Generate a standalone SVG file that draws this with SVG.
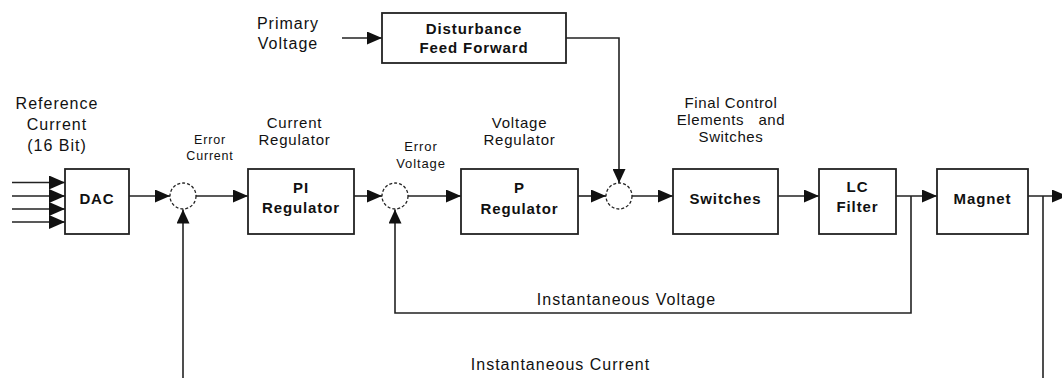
<svg xmlns="http://www.w3.org/2000/svg" width="1062" height="378" viewBox="0 0 1062 378">
  <style>
    .box { fill: #fff; stroke: #222; stroke-width: 1.8; }
    .sum { fill: #fff; stroke: #222; stroke-width: 1.3; stroke-dasharray: 3 2; }
    .ln { fill: none; stroke: #222; stroke-width: 1.6; }
    .t { font-family: "Liberation Sans", Arial, sans-serif; fill: #111; text-anchor: middle; white-space: pre; }
    .b { font-size: 15px; font-weight: bold; letter-spacing: 0.9px; }
    .r16 { font-size: 16px; letter-spacing: 1px; }
    .r15 { font-size: 15px; letter-spacing: 0.8px; }
    .r14 { font-size: 15px; letter-spacing: 0.6px; }
    .r13 { font-size: 13px; letter-spacing: 0.9px; }
    .r12 { font-size: 12.5px; letter-spacing: 0.8px; }
  </style>
  <defs>
    <marker id="ah" markerUnits="userSpaceOnUse" markerWidth="15" markerHeight="13" refX="15" refY="6.5" orient="auto">
      <path d="M0,0 L15,6.5 L0,13 z" fill="#111"/>
    </marker>
    <marker id="ahv" markerUnits="userSpaceOnUse" markerWidth="14" markerHeight="13" refX="14" refY="6.5" orient="auto">
      <path d="M0,0 L14,6.5 L0,13 z" fill="#111"/>
    </marker>
    <marker id="ahi" markerUnits="userSpaceOnUse" markerWidth="16" markerHeight="14" refX="16" refY="7" orient="auto">
      <path d="M0,0 L16,7 L0,14 z" fill="#111"/>
    </marker>
  </defs>

  <rect width="1062" height="378" fill="#fff"/>

  <g id="connectors">
    <!-- DAC inputs -->
    <line class="ln" x1="12" y1="182.5" x2="65" y2="182.5" marker-end="url(#ahi)"/>
    <line class="ln" x1="12" y1="196" x2="65" y2="196" marker-end="url(#ahi)"/>
    <line class="ln" x1="12" y1="209" x2="65" y2="209" marker-end="url(#ahi)"/>
    <line class="ln" x1="12" y1="222" x2="65" y2="222" marker-end="url(#ahi)"/>
    <!-- forward path -->
    <line class="ln" x1="129" y1="196" x2="170" y2="196" marker-end="url(#ah)"/>
    <line class="ln" x1="196" y1="196" x2="248" y2="196" marker-end="url(#ah)"/>
    <line class="ln" x1="354" y1="196" x2="382" y2="196" marker-end="url(#ah)"/>
    <line class="ln" x1="408" y1="196" x2="461" y2="196" marker-end="url(#ah)"/>
    <line class="ln" x1="578" y1="196" x2="606" y2="196" marker-end="url(#ah)"/>
    <line class="ln" x1="632" y1="196" x2="673" y2="196" marker-end="url(#ah)"/>
    <line class="ln" x1="778" y1="196" x2="819" y2="196" marker-end="url(#ah)"/>
    <line class="ln" x1="896" y1="196" x2="937" y2="196" marker-end="url(#ah)"/>
    <line class="ln" x1="1028" y1="196" x2="1067" y2="196" marker-end="url(#ah)"/>
    <!-- primary voltage / feed forward -->
    <line class="ln" x1="342" y1="38" x2="382" y2="38" marker-end="url(#ah)"/>
    <polyline class="ln" points="566,38 619,38 619,183" marker-end="url(#ahv)"/>
    <!-- voltage feedback -->
    <polyline class="ln" points="911,196 911,313 395,313 395,209.5" marker-end="url(#ahv)"/>
    <!-- current feedback -->
    <line class="ln" x1="1043" y1="196" x2="1043" y2="380"/>
    <line class="ln" x1="183" y1="380" x2="183" y2="209.5" marker-end="url(#ahv)"/>
  </g>

  <g id="reference-label">
    <text class="t r16" x="57" y="109">Reference</text>
    <text class="t r16" x="57" y="129.5">Current</text>
    <text class="t r16" x="57" y="150.5">(16 Bit)</text>
  </g>
  <g id="primary-voltage-label">
    <text class="t r16" x="288" y="29">Primary</text>
    <text class="t r16" x="288" y="48.5">Voltage</text>
  </g>

  <g id="dac">
    <rect class="box" x="65" y="169" width="64" height="65"/>
    <text class="t b" x="97" y="204">DAC</text>
  </g>

  <g id="sum-error-current">
    <circle class="sum" cx="183" cy="196" r="13"/>
    <text class="t r12" x="210" y="144">Error</text>
    <text class="t r12" x="210" y="160">Current</text>
  </g>

  <g id="pi-regulator">
    <text class="t r15" x="294.5" y="128">Current</text>
    <text class="t r15" x="294.5" y="145">Regulator</text>
    <rect class="box" x="248" y="169" width="106" height="65"/>
    <text class="t b" x="301" y="193">PI</text>
    <text class="t b" x="301" y="213">Regulator</text>
  </g>

  <g id="sum-error-voltage">
    <circle class="sum" cx="395" cy="196" r="13"/>
    <text class="t r13" x="421" y="151">Error</text>
    <text class="t r13" x="421" y="168">Voltage</text>
  </g>

  <g id="p-regulator">
    <text class="t r15" x="519.5" y="128">Voltage</text>
    <text class="t r15" x="519.5" y="145">Regulator</text>
    <rect class="box" x="461" y="169" width="117" height="65"/>
    <text class="t b" x="519.5" y="193">P</text>
    <text class="t b" x="519.5" y="214">Regulator</text>
  </g>

  <g id="disturbance-feed-forward">
    <rect class="box" x="382" y="13" width="184" height="50"/>
    <text class="t b" x="474" y="34">Disturbance</text>
    <text class="t b" x="474" y="53">Feed Forward</text>
  </g>

  <g id="sum-feed-forward">
    <circle class="sum" cx="619" cy="196" r="13"/>
  </g>

  <g id="switches">
    <text class="t r14" x="731" y="108">Final Control</text>
    <text class="t r14" x="731" y="125">Elements   and</text>
    <text class="t r14" x="731" y="142">Switches</text>
    <rect class="box" x="673" y="169" width="105" height="65"/>
    <text class="t b" x="725.5" y="204">Switches</text>
  </g>

  <g id="lc-filter">
    <rect class="box" x="819" y="169" width="77" height="65"/>
    <text class="t b" x="857.5" y="192">LC</text>
    <text class="t b" x="857.5" y="212">Filter</text>
  </g>

  <g id="magnet">
    <rect class="box" x="937" y="169" width="91" height="65"/>
    <text class="t b" x="982.5" y="204">Magnet</text>
  </g>

  <g id="feedback-labels">
    <text class="t r16" x="626.5" y="305">Instantaneous Voltage</text>
    <text class="t r16" x="560.5" y="370">Instantaneous Current</text>
  </g>
</svg>
